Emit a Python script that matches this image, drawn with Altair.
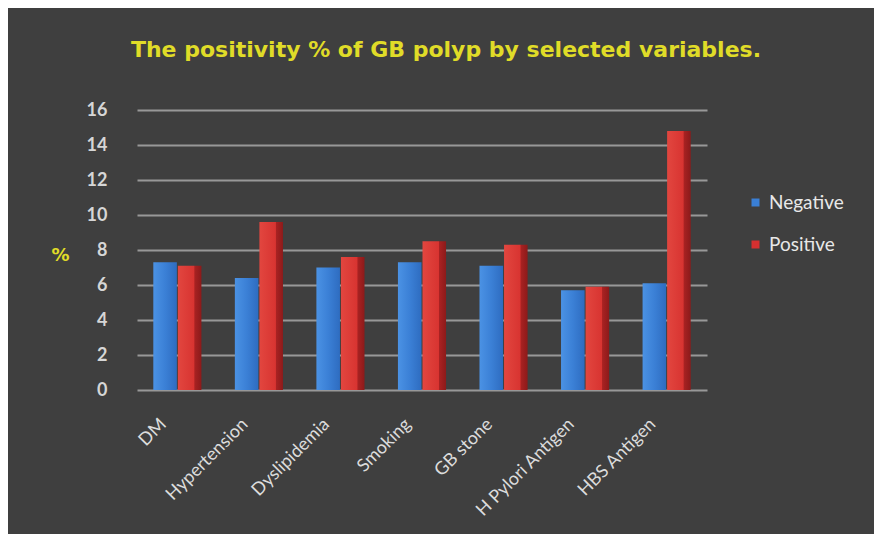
import altair as alt
import pandas as pd

categories = ["DM", "Hypertension", "Dyslipidemia", "Smoking", "GB stone",
              "H Pylori Antigen", "HBS Antigen"]
negative = [7.3, 6.4, 7.0, 7.3, 7.1, 5.7, 6.1]
positive = [7.1, 9.6, 7.6, 8.5, 8.3, 5.9, 14.8]
series = ["Negative", "Positive"]
y_ticks = [0, 2, 4, 6, 8, 10, 12, 14, 16]

rows = []
for c, n, p in zip(categories, negative, positive):
    rows.append({"Variable": c, "Group": "Negative", "Value": n})
    rows.append({"Variable": c, "Group": "Positive", "Value": p})
df = pd.DataFrame(rows)

blue_grad = alt.LinearGradient(
    gradient="linear", x1=0, x2=1, y1=0, y2=0,
    stops=[alt.GradientStop(color="#4b92e4", offset=0),
           alt.GradientStop(color="#3b80d6", offset=0.5),
           alt.GradientStop(color="#2e6cc0", offset=1)])
red_grad = alt.LinearGradient(
    gradient="linear", x1=0, x2=1, y1=0, y2=0,
    stops=[alt.GradientStop(color="#e2463f", offset=0),
           alt.GradientStop(color="#d83431", offset=0.68),
           alt.GradientStop(color="#a82222", offset=0.72),
           alt.GradientStop(color="#8c1a1a", offset=1)])

x_enc = alt.X("Variable:N", sort=categories,
              scale=alt.Scale(paddingInner=0.41, paddingOuter=0.2),
              axis=alt.Axis(title=None, labelAngle=-45, labelFontSize=18,
                            labelFont="Lato", labelColor="#dcdcdc",
                            labelPadding=25, labelOffset=-20,
                            domain=False, ticks=False))
xo_enc = alt.XOffset("Group:N", scale=alt.Scale(domain=series, paddingInner=0.04))
y_enc = alt.Y("Value:Q", scale=alt.Scale(domain=[0, 16], nice=False),
              axis=alt.Axis(values=y_ticks, title="%", titleAngle=0,
                            titleColor="#e0dc28", titleFont="DejaVu Sans",
                            titleFontSize=18, titleFontWeight="bold",
                            titleX=-77, titleY=145, titleAlign="center",
                            titleBaseline="middle",
                            labelFontSize=18, labelFont="Lato",
                            labelFontWeight="bold", labelColor="#d6d6d6",
                            labelPadding=30, domain=False, ticks=False,
                            gridColor="#a8a8a8", gridWidth=2, gridOpacity=0.85))

base = alt.Chart(df).encode(x=x_enc, xOffset=xo_enc, y=y_enc)

neg = base.transform_filter(alt.datum.Group == "Negative").mark_bar(fill=blue_grad)
pos = base.transform_filter(alt.datum.Group == "Positive").mark_bar(fill=red_grad)
leg = base.mark_square(opacity=0).encode(
    color=alt.Color("Group:N",
                    scale=alt.Scale(domain=series, range=["#3a7fd5", "#d63030"]),
                    legend=alt.Legend(title=None, orient="none", legendX=609,
                                      legendY=83, symbolType="square",
                                      symbolSize=64, symbolOpacity=1,
                                      labelFontSize=19, labelFont="Lato",
                                      labelColor="#e8e8e8", labelOffset=4,
                                      rowPadding=22)))

chart = alt.layer(leg, neg, pos).properties(
    width=570, height=280,
    title=alt.TitleParams("The positivity % of GB polyp by selected variables.",
                          font="DejaVu Sans", fontSize=22, fontWeight="bold",
                          color="#e0dc28", anchor="middle", offset=39, dx=24),
    background="#3f3f3f",
    padding={"left": 129, "top": 102, "right": 167, "bottom": 144},
    autosize=alt.AutoSizeParams(type="none"),
).configure_view(stroke=None)

chart.save("out.html", embed_options={"renderer": "svg", "actions": False})
